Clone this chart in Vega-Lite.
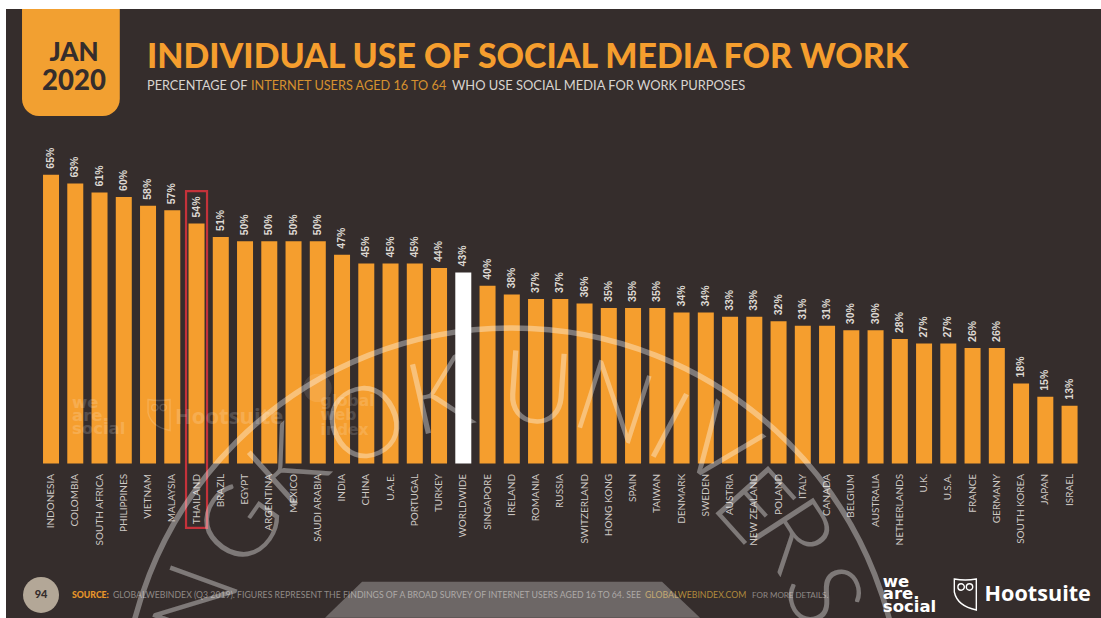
{
  "$schema": "https://vega.github.io/schema/vega-lite/v6.json",
  "width": 1095,
  "height": 609,
  "padding": {"left": 6, "top": 9, "right": 0, "bottom": 0},
  "autosize": {"type": "none"},
  "background": "#ffffff",
  "view": {"fill": "#352d2c", "stroke": null},
  "data": {"values": [
    {"country": "INDONESIA", "pct": 65, "group": "country"},
    {"country": "COLOMBIA", "pct": 63, "group": "country"},
    {"country": "SOUTH AFRICA", "pct": 61, "group": "country"},
    {"country": "PHILIPPINES", "pct": 60, "group": "country"},
    {"country": "VIETNAM", "pct": 58, "group": "country"},
    {"country": "MALAYSIA", "pct": 57, "group": "country"},
    {"country": "THAILAND", "pct": 54, "group": "country"},
    {"country": "BRAZIL", "pct": 51, "group": "country"},
    {"country": "EGYPT", "pct": 50, "group": "country"},
    {"country": "ARGENTINA", "pct": 50, "group": "country"},
    {"country": "MEXICO", "pct": 50, "group": "country"},
    {"country": "SAUDI ARABIA", "pct": 50, "group": "country"},
    {"country": "INDIA", "pct": 47, "group": "country"},
    {"country": "CHINA", "pct": 45, "group": "country"},
    {"country": "U.A.E.", "pct": 45, "group": "country"},
    {"country": "PORTUGAL", "pct": 45, "group": "country"},
    {"country": "TURKEY", "pct": 44, "group": "country"},
    {"country": "WORLDWIDE", "pct": 43, "group": "world"},
    {"country": "SINGAPORE", "pct": 40, "group": "country"},
    {"country": "IRELAND", "pct": 38, "group": "country"},
    {"country": "ROMANIA", "pct": 37, "group": "country"},
    {"country": "RUSSIA", "pct": 37, "group": "country"},
    {"country": "SWITZERLAND", "pct": 36, "group": "country"},
    {"country": "HONG KONG", "pct": 35, "group": "country"},
    {"country": "SPAIN", "pct": 35, "group": "country"},
    {"country": "TAIWAN", "pct": 35, "group": "country"},
    {"country": "DENMARK", "pct": 34, "group": "country"},
    {"country": "SWEDEN", "pct": 34, "group": "country"},
    {"country": "AUSTRIA", "pct": 33, "group": "country"},
    {"country": "NEW ZEALAND", "pct": 33, "group": "country"},
    {"country": "POLAND", "pct": 32, "group": "country"},
    {"country": "ITALY", "pct": 31, "group": "country"},
    {"country": "CANADA", "pct": 31, "group": "country"},
    {"country": "BELGIUM", "pct": 30, "group": "country"},
    {"country": "AUSTRALIA", "pct": 30, "group": "country"},
    {"country": "NETHERLANDS", "pct": 28, "group": "country"},
    {"country": "U.K.", "pct": 27, "group": "country"},
    {"country": "U.S.A.", "pct": 27, "group": "country"},
    {"country": "FRANCE", "pct": 26, "group": "country"},
    {"country": "GERMANY", "pct": 26, "group": "country"},
    {"country": "SOUTH KOREA", "pct": 18, "group": "country"},
    {"country": "JAPAN", "pct": 15, "group": "country"},
    {"country": "ISRAEL", "pct": 13, "group": "country"}
  ]},
  "encoding": {
    "x": {
      "field": "country",
      "type": "nominal",
      "sort": null,
      "title": null,
      "scale": {"range": [32.9, 1075.7], "paddingInner": 0.34, "paddingOuter": 0.17},
      "axis": {
        "domain": false,
        "ticks": false,
        "offset": -154.6,
        "labelAngle": -90,
        "labelFont": "Lato",
        "labelFontSize": 10,
        "labelColor": "#cfcac6",
        "labelPadding": 10,
        "labelOverlap": false
      }
    }
  },
  "layer": [
    {
      "mark": {"type": "bar"},
      "encoding": {
        "y": {
          "field": "pct",
          "type": "quantitative",
          "axis": null,
          "scale": {"domain": [-34.8, 102.3], "range": [609, 0], "nice": false, "zero": false}
        },
        "y2": {"datum": 0},
        "color": {
          "field": "group",
          "type": "nominal",
          "legend": null,
          "scale": {"domain": ["country", "world"], "range": ["#f59e2e", "#ffffff"]}
        }
      }
    },
    {
      "transform": [{"filter": "datum.country === 'THAILAND'"}],
      "mark": {"type": "bar", "width": 21, "fillOpacity": 0, "stroke": "#c4323a", "strokeWidth": 2.2},
      "encoding": {"y": {"datum": 61.3}, "y2": {"datum": -14.5}}
    },
    {
      "transform": [{"calculate": "datum.pct + '%'", "as": "label"}],
      "mark": {
        "type": "text",
        "angle": -90,
        "align": "left",
        "baseline": "middle",
        "dx": 6,
        "font": "Liberation Sans",
        "fontSize": 10.5,
        "fontWeight": "bold",
        "color": "#ded9d3"
      },
      "encoding": {
        "y": {"field": "pct", "type": "quantitative"},
        "text": {"field": "label"}
      }
    },
    {
      "data": {"values": [{"label": "badge"}]},
      "mark": {"type": "rect", "color": "#f2a031", "cornerRadiusBottomLeft": 17, "cornerRadiusBottomRight": 17, "xOffset": -29, "x2Offset": -4},
      "encoding": {"x": {"datum": "INDONESIA"}, "x2": {"datum": "PHILIPPINES"}, "y": {"datum": 102.3}, "y2": {"datum": 78.2}}
    },
    {
      "data": {"values": [{"label": "JAN"}]},
      "mark": {"type": "text", "font": "Lato", "fontWeight": 900, "fontSize": 26, "color": "#352d2c", "align": "center", "baseline": "alphabetic", "dx": 23},
      "encoding": {"x": {"datum": "INDONESIA"}, "y": {"datum": 90.6}, "text": {"field": "label"}}
    },
    {
      "data": {"values": [{"label": "2020"}]},
      "mark": {"type": "text", "font": "Lato", "fontWeight": 900, "fontSize": 27.5, "color": "#352d2c", "align": "center", "baseline": "alphabetic", "dx": 23},
      "encoding": {"x": {"datum": "INDONESIA"}, "y": {"datum": 84.1}, "text": {"field": "label"}}
    },
    {
      "data": {"values": [{"label": "INDIVIDUAL USE OF SOCIAL MEDIA FOR WORK"}]},
      "mark": {"type": "text", "font": "Lato", "fontWeight": 900, "fontSize": 33.9, "color": "#f59e2e", "align": "left", "baseline": "alphabetic", "dx": 96},
      "encoding": {"x": {"datum": "INDONESIA"}, "y": {"datum": 89.0}, "text": {"field": "label"}}
    },
    {
      "data": {"values": [{"label": "PERCENTAGE OF"}]},
      "mark": {"type": "text", "font": "Lato", "fontSize": 12.7, "color": "#d8d4d0", "align": "left", "baseline": "alphabetic", "dx": 96},
      "encoding": {"x": {"datum": "INDONESIA"}, "y": {"datum": 84.1}, "text": {"field": "label"}}
    },
    {
      "data": {"values": [{"label": "INTERNET USERS AGED 16 TO 64"}]},
      "mark": {"type": "text", "font": "Lato", "fontSize": 12.7, "color": "#d5912f", "align": "left", "baseline": "alphabetic", "dx": 200},
      "encoding": {"x": {"datum": "INDONESIA"}, "y": {"datum": 84.1}, "text": {"field": "label"}}
    },
    {
      "data": {"values": [{"label": "WHO USE SOCIAL MEDIA FOR WORK PURPOSES"}]},
      "mark": {"type": "text", "font": "Lato", "fontSize": 12.9, "color": "#d8d4d0", "align": "left", "baseline": "alphabetic", "dx": 401},
      "encoding": {"x": {"datum": "INDONESIA"}, "y": {"datum": 84.1}, "text": {"field": "label"}}
    },
    {
      "data": {"values": [{"label": "page"}]},
      "mark": {"type": "point", "filled": true, "shape": "circle", "size": 1296, "color": "#b3a797", "opacity": 1, "xOffset": -10},
      "encoding": {"x": {"datum": "INDONESIA"}, "y": {"datum": -29.6}}
    },
    {
      "data": {"values": [{"label": "94"}]},
      "mark": {"type": "text", "font": "Lato", "fontWeight": 900, "fontSize": 11, "color": "#352d2c", "align": "center", "baseline": "middle", "dx": -10},
      "encoding": {"x": {"datum": "INDONESIA"}, "y": {"datum": -29.6}, "text": {"field": "label"}}
    },
    {
      "data": {"values": [{"label": "SOURCE:"}]},
      "mark": {"type": "text", "font": "Lato", "fontWeight": 900, "fontSize": 8.7, "color": "#e8962a", "align": "left", "baseline": "alphabetic", "dx": 21},
      "encoding": {"x": {"datum": "INDONESIA"}, "y": {"datum": -30.3}, "text": {"field": "label"}}
    },
    {
      "data": {"values": [{"label": "GLOBALWEBINDEX (Q3 2019). FIGURES REPRESENT THE FINDINGS OF A BROAD SURVEY OF INTERNET USERS AGED 16 TO 64. SEE"}]},
      "mark": {"type": "text", "font": "Lato", "fontSize": 8.7, "color": "#8f8986", "align": "left", "baseline": "alphabetic", "dx": 62},
      "encoding": {"x": {"datum": "INDONESIA"}, "y": {"datum": -30.3}, "text": {"field": "label"}}
    },
    {
      "data": {"values": [{"label": "GLOBALWEBINDEX.COM"}]},
      "mark": {"type": "text", "font": "Lato", "fontSize": 8.7, "color": "#b08a3c", "align": "left", "baseline": "alphabetic", "dx": 594},
      "encoding": {"x": {"datum": "INDONESIA"}, "y": {"datum": -30.3}, "text": {"field": "label"}}
    },
    {
      "data": {"values": [{"label": "FOR MORE DETAILS."}]},
      "mark": {"type": "text", "font": "Lato", "fontSize": 8, "color": "#8f8986", "align": "left", "baseline": "alphabetic", "dx": 701},
      "encoding": {"x": {"datum": "INDONESIA"}, "y": {"datum": -30.3}, "text": {"field": "label"}}
    },
    {
      "data": {"values": [{"label": "we"}]},
      "mark": {"type": "text", "font": "DejaVu Sans", "fontWeight": "bold", "fontSize": 16.5, "color": "#ffffff", "align": "left", "baseline": "alphabetic", "dx": -17},
      "encoding": {"x": {"datum": "NETHERLANDS"}, "y": {"datum": -27.8}, "text": {"field": "label"}}
    },
    {
      "data": {"values": [{"label": "are."}]},
      "mark": {"type": "text", "font": "DejaVu Sans", "fontWeight": "bold", "fontSize": 16.5, "color": "#ffffff", "align": "left", "baseline": "alphabetic", "dx": -17},
      "encoding": {"x": {"datum": "NETHERLANDS"}, "y": {"datum": -30.6}, "text": {"field": "label"}}
    },
    {
      "data": {"values": [{"label": "social"}]},
      "mark": {"type": "text", "font": "DejaVu Sans", "fontWeight": "bold", "fontSize": 16.5, "color": "#ffffff", "align": "left", "baseline": "alphabetic", "dx": -17},
      "encoding": {"x": {"datum": "NETHERLANDS"}, "y": {"datum": -33.4}, "text": {"field": "label"}}
    },
    {
      "data": {"values": [{"label": "Hootsuite"}]},
      "mark": {"type": "text", "font": "Open Sans", "fontWeight": "bold", "fontSize": 21.6, "color": "#ffffff", "align": "left", "baseline": "alphabetic", "dx": -85},
      "encoding": {"x": {"datum": "ISRAEL"}, "y": {"datum": -31.0}, "text": {"field": "label"}}
    },
    {
      "data": {"values": [{"label": "owl"}]},
      "mark": {
        "type": "point",
        "filled": false,
        "size": 4,
        "stroke": "#ffffff",
        "strokeWidth": 1.4,
        "opacity": 1,
        "xOffset": 17,
        "shape": "M-11 -15 Q0 -13 11 -15 L11 16 Q-8 12 -11 -2 Z M-1 -7 a3.2 3.2 0 1 1 -6.4 0 a3.2 3.2 0 1 1 6.4 0 M7.4 -7 a3.2 3.2 0 1 1 -6.4 0 a3.2 3.2 0 1 1 6.4 0"
      },
      "encoding": {"x": {"datum": "U.S.A."}, "y": {"datum": -29.4}}
    },
    {
      "data": {"values": [{"label": "we"}]},
      "mark": {"type": "text", "font": "DejaVu Sans", "fontWeight": "bold", "fontSize": 16.5, "color": "#ffffff", "opacity": 0.16, "align": "left", "baseline": "alphabetic", "dx": 21},
      "encoding": {"x": {"datum": "INDONESIA"}, "y": {"datum": 12.5}, "text": {"field": "label"}}
    },
    {
      "data": {"values": [{"label": "are."}]},
      "mark": {"type": "text", "font": "DejaVu Sans", "fontWeight": "bold", "fontSize": 16.5, "color": "#ffffff", "opacity": 0.16, "align": "left", "baseline": "alphabetic", "dx": 21},
      "encoding": {"x": {"datum": "INDONESIA"}, "y": {"datum": 9.6}, "text": {"field": "label"}}
    },
    {
      "data": {"values": [{"label": "social"}]},
      "mark": {"type": "text", "font": "DejaVu Sans", "fontWeight": "bold", "fontSize": 16.5, "color": "#ffffff", "opacity": 0.16, "align": "left", "baseline": "alphabetic", "dx": 21},
      "encoding": {"x": {"datum": "INDONESIA"}, "y": {"datum": 6.6}, "text": {"field": "label"}}
    },
    {
      "data": {"values": [{"label": "Hootsuite"}]},
      "mark": {"type": "text", "font": "Open Sans", "fontWeight": "bold", "fontSize": 22, "color": "#ffffff", "opacity": 0.16, "align": "left", "baseline": "alphabetic", "dx": 124},
      "encoding": {"x": {"datum": "INDONESIA"}, "y": {"datum": 8.9}, "text": {"field": "label"}}
    },
    {
      "data": {"values": [{"label": "owl"}]},
      "mark": {
        "type": "point",
        "filled": false,
        "size": 4,
        "stroke": "#ffffff",
        "strokeWidth": 1.4,
        "opacity": 0.16,
        "xOffset": 11,
        "shape": "M-11 -15 Q0 -13 11 -15 L11 16 Q-8 12 -11 -2 Z M-1 -7 a3.2 3.2 0 1 1 -6.4 0 a3.2 3.2 0 1 1 6.4 0 M7.4 -7 a3.2 3.2 0 1 1 -6.4 0 a3.2 3.2 0 1 1 6.4 0"
      },
      "encoding": {"x": {"datum": "VIETNAM"}, "y": {"datum": 11}}
    },
    {
      "data": {"values": [{"label": "dot"}]},
      "mark": {"type": "point", "filled": true, "shape": "circle", "size": 800, "color": "#ffffff", "opacity": 0.1, "xOffset": 24},
      "encoding": {"x": {"datum": "MEXICO"}, "y": {"datum": 17}}
    },
    {
      "data": {"values": [{"label": "global"}]},
      "mark": {"type": "text", "font": "DejaVu Sans", "fontWeight": "bold", "fontSize": 15.5, "color": "#ffffff", "opacity": 0.14, "align": "left", "baseline": "alphabetic", "dx": 27},
      "encoding": {"x": {"datum": "MEXICO"}, "y": {"datum": 13}, "text": {"field": "label"}}
    },
    {
      "data": {"values": [{"label": "web"}]},
      "mark": {"type": "text", "font": "DejaVu Sans", "fontWeight": "bold", "fontSize": 15.5, "color": "#ffffff", "opacity": 0.14, "align": "left", "baseline": "alphabetic", "dx": 27},
      "encoding": {"x": {"datum": "MEXICO"}, "y": {"datum": 9.8}, "text": {"field": "label"}}
    },
    {
      "data": {"values": [{"label": "index"}]},
      "mark": {"type": "text", "font": "DejaVu Sans", "fontWeight": "bold", "fontSize": 15.5, "color": "#ffffff", "opacity": 0.14, "align": "left", "baseline": "alphabetic", "dx": 27},
      "encoding": {"x": {"datum": "MEXICO"}, "y": {"datum": 6.4}, "text": {"field": "label"}}
    },
    {
      "data": {"values": [{"label": "seal"}]},
      "mark": {"type": "point", "filled": false, "shape": "circle", "size": 608400, "stroke": "#ffffff", "strokeWidth": 5.5, "opacity": 0.36, "clip": true, "xOffset": 24.5},
      "encoding": {"x": {"datum": "SINGAPORE"}, "y": {"datum": -57.3}}
    },
    {
      "data": {"values": [{"label": "plate"}]},
      "mark": {
        "type": "point",
        "filled": true,
        "size": 4,
        "fill": "#ffffff",
        "opacity": 0.28,
        "clip": true,
        "xOffset": -24,
        "shape": "M-150 -18 L150 -18 L188 18 L-187 18 Z"
      },
      "encoding": {"x": {"datum": "ROMANIA"}, "y": {"datum": -30.7}}
    },
    {"data": {"values": [{"label": "N"}]}, "mark": {"type": "text", "font": "Lato", "fontWeight": 300, "fontSize": 100, "color": "#ffffff", "opacity": 0.36, "clip": true, "align": "center", "baseline": "middle", "angle": -70, "xOffset": 3.5}, "encoding": {"x": {"datum": "THAILAND"}, "y": {"datum": -31.9}, "text": {"field": "label"}}},
    {"data": {"values": [{"label": "G"}]}, "mark": {"type": "text", "font": "Lato", "fontWeight": 300, "fontSize": 100, "color": "#ffffff", "opacity": 0.36, "align": "center", "baseline": "middle", "angle": -55, "xOffset": -2}, "encoding": {"x": {"datum": "EGYPT"}, "y": {"datum": -14.3}, "text": {"field": "label"}}},
    {"data": {"values": [{"label": "K"}]}, "mark": {"type": "text", "font": "Lato", "fontWeight": 300, "fontSize": 100, "color": "#ffffff", "opacity": 0.36, "align": "center", "baseline": "middle", "angle": -42, "xOffset": -3.5}, "encoding": {"x": {"datum": "MEXICO"}, "y": {"datum": -1.5}, "text": {"field": "label"}}},
    {"data": {"values": [{"label": "O"}]}, "mark": {"type": "text", "font": "Lato", "fontWeight": 300, "fontSize": 100, "color": "#ffffff", "opacity": 0.36, "align": "center", "baseline": "middle", "angle": -26, "xOffset": 0.75}, "encoding": {"x": {"datum": "CHINA"}, "y": {"datum": 8.2}, "text": {"field": "label"}}},
    {"data": {"values": [{"label": "K"}]}, "mark": {"type": "text", "font": "Lato", "fontWeight": 300, "fontSize": 100, "color": "#ffffff", "opacity": 0.36, "align": "center", "baseline": "middle", "angle": -13, "xOffset": 1}, "encoding": {"x": {"datum": "TURKEY"}, "y": {"datum": 14.3}, "text": {"field": "label"}}},
    {"data": {"values": [{"label": "U"}]}, "mark": {"type": "text", "font": "Lato", "fontWeight": 300, "fontSize": 100, "color": "#ffffff", "opacity": 0.36, "align": "center", "baseline": "middle", "angle": 4, "xOffset": 1}, "encoding": {"x": {"datum": "ROMANIA"}, "y": {"datum": 15.9}, "text": {"field": "label"}}},
    {"data": {"values": [{"label": "N"}]}, "mark": {"type": "text", "font": "Lato", "fontWeight": 300, "fontSize": 100, "color": "#ffffff", "opacity": 0.36, "align": "center", "baseline": "middle", "angle": 18, "xOffset": 4}, "encoding": {"x": {"datum": "HONG KONG"}, "y": {"datum": 12.7}, "text": {"field": "label"}}},
    {"data": {"values": [{"label": "I"}]}, "mark": {"type": "text", "font": "Lato", "fontWeight": 300, "fontSize": 100, "color": "#ffffff", "opacity": 0.36, "align": "center", "baseline": "middle", "angle": 28, "xOffset": 10}, "encoding": {"x": {"datum": "TAIWAN"}, "y": {"datum": 7.5}, "text": {"field": "label"}}},
    {"data": {"values": [{"label": "V"}]}, "mark": {"type": "text", "font": "Lato", "fontWeight": 300, "fontSize": 100, "color": "#ffffff", "opacity": 0.36, "align": "center", "baseline": "middle", "angle": 37, "xOffset": 11}, "encoding": {"x": {"datum": "SWEDEN"}, "y": {"datum": 3.0}, "text": {"field": "label"}}},
    {"data": {"values": [{"label": "E"}]}, "mark": {"type": "text", "font": "Lato", "fontWeight": 300, "fontSize": 100, "color": "#ffffff", "opacity": 0.36, "align": "center", "baseline": "middle", "angle": 48, "xOffset": -4}, "encoding": {"x": {"datum": "NEW ZEALAND"}, "y": {"datum": -9.8}, "text": {"field": "label"}}},
    {"data": {"values": [{"label": "R"}]}, "mark": {"type": "text", "font": "Lato", "fontWeight": 300, "fontSize": 100, "color": "#ffffff", "opacity": 0.36, "align": "center", "baseline": "middle", "angle": 57, "xOffset": 11.5}, "encoding": {"x": {"datum": "POLAND"}, "y": {"datum": -16.5}, "text": {"field": "label"}}},
    {"data": {"values": [{"label": "S"}]}, "mark": {"type": "text", "font": "Lato", "fontWeight": 300, "fontSize": 100, "color": "#ffffff", "opacity": 0.36, "clip": true, "align": "center", "baseline": "middle", "angle": 69, "xOffset": 17}, "encoding": {"x": {"datum": "ITALY"}, "y": {"datum": -30}, "text": {"field": "label"}}}
  ]
}
